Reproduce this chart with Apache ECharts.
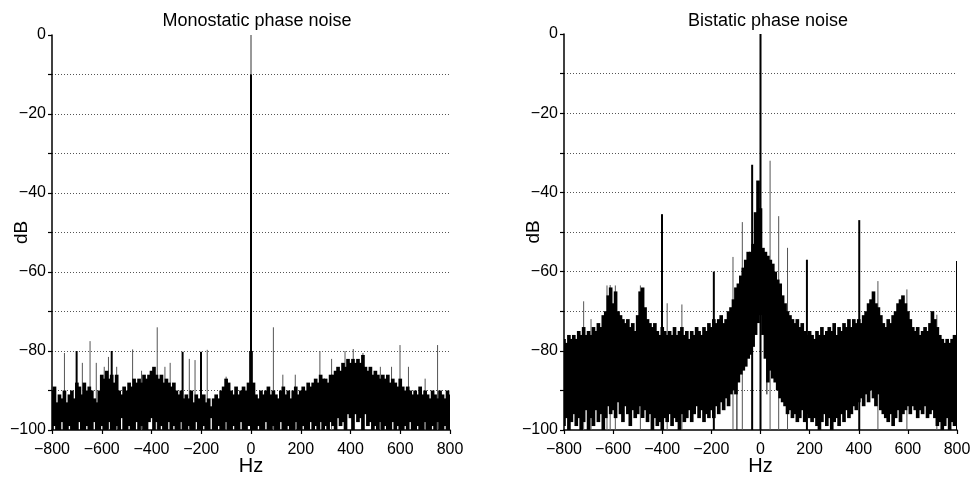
<!DOCTYPE html>
<html><head><meta charset="utf-8">
<script src="https://cdn.jsdelivr.net/npm/echarts@6/dist/echarts.min.js"></script>
<style>html,body{margin:0;padding:0;background:#fff}#c{width:975px;height:481px}</style>
</head><body><div id="c"></div>
<script>
// ---- spectrum sampling grid (Hz) ----
const binStart = -800, binStep = 10, binCount = 161;

// ---- Monostatic phase noise: upper / lower edge of the noise band per bin (dB) ----
const monoUpper = [
 -90,-89,-93,-91, -92,-90,-93,-91, -90,-92,-88, -89,-91,-88,-90, -89,-90,-92,-93,
 -90,-86,-87,-85, -87,-86,-88,-86, -90,-91,-89,-90, -88,-89,-87,-88, -87,-88,-86,-87,
 -86,-85,-84,-86, -87,-86,-88,-87, -88,-89,-88,-90, -91,-90,-92,-91, -92,-90,-93,-91,
 -92,-93,-91,-93, -92,-94,-92,-91, -92,-90,-89,-87, -88,-90,-91,-89, -91,-90,-89,-90,
 -88, -80, -88,
 -91,-92,-90,-91, -90,-89,-91,-90, -91,-92,-90,-89, -91,-90,-92,-90, -89,-91,-90,-89,
 -90,-88,-89,-88, -87,-88,-86,-87, -87,-88,-86,-86, -85,-84,-85,-83, -84,-82,-83,-82,
 -83,-82,-83,-81, -84,-85,-84,-86, -85,-86,-87,-86, -87,-86,-88,-87, -88,-89,-87,-89,
 -90,-89,-90,-91, -90,-91,-89,-91, -90,-91,-92,-90, -91,-92,-90,-91, -92,-90,-91
];
const monoLower = [
 -100,-99,-100,-100,-98,-100,-100,-99,-100,-100,
 -100,-98,-100,-100,-99,-100,-100,-98,-100,-100,
 -99,-100,-100,-98,-100,-100,-99,-100,-97,-100,
 -100,-99,-100,-100,-98,-100,-99,-100,-100,-98,
 -97,-100,-98,-100,-99,-100,-100,-98,-100,-99,
 -100,-100,-98,-100,-100,-99,-100,-100,-98,-100,
 -100,-99,-100,-100,-97,-100,-100,-99,-100,-100,
 -98,-100,-100,-99,-100,-100,-98,-100,-100,-99,
 -97,
 -100,-100,-99,-100,-100,-98,-100,-100,-99,-100,
 -100,-98,-100,-100,-99,-100,-100,-98,-100,-100,
 -99,-100,-100,-98,-100,-99,-100,-98,-100,-99,
 -100,-98,-99,-100,-97,-99,-98,-100,-96,-97,
 -100,-96,-98,-97,-100,-96,-99,-98,-100,-99,
 -100,-98,-100,-99,-100,-100,-98,-100,-99,-100,
 -100,-99,-100,-98,-100,-100,-99,-100,-100,-98,
 -100,-100,-99,-100,-98,-100,-100,-99,-100,-100
];
// isolated thin spectral lines (Hz, dB)
const monoLineHz = [-750,-678,-647,-622,-590,-573,-540,-476,-440,-377,-346,-325,-248,-225,-176,-100,90,128,178,277,324,378,411,450,520,565,599,633,700,750];
const monoLineDb = [-80.5,-83,-77.5,-83,-84,-81.5,-84,-79.6,-85,-74,-84,-83,-82,-82.3,-79.7,-86.5,-74,-86,-86,-80,-82,-80,-79.5,-80.5,-84,-84,-78.5,-84,-87,-78.5];
// strong dark lines (Hz, dB)
const monoDarkHz = [-701,-560,-275,-201,0];
const monoDarkDb = [-80,-80,-80.2,-80.2,-10];
// carrier tip
const monoCarrierHz = [0];
const monoCarrierDb = [0];

// ---- Bistatic phase noise ----
const biUpper = [
 -77,-78,-76,-77, -76,-77,-75,-76, -74,-76,-75, -76,-74,-75,-73, -74,-71,-70,-66,
 -64,-68,-65,-70, -71,-72,-73,-72, -74,-73,-75,-71, -65,-64,-69,-72, -73,-74,-73,-75,
 -76,-74,-75,-76, -75,-76,-74,-76, -75,-74,-76,-75, -77,-75,-76,-74, -75,-76,-74,-75,
 -73,-74,-72,-73, -72,-71,-73,-72, -70,-69,-67,-64, -63,-61,-59,-57, -55,-55,-53,
 -45, -37, -44,
 -54,-55,-56,-57, -58,-60,-62,-63, -66,-68,-70,-71, -72,-73,-72,-74, -73,-75,-76,-75,
 -76,-77,-75,-76, -74,-76,-75,-74, -75,-73,-76,-74, -75,-73,-74,-72, -74,-72,-73,-72,
 -73,-71,-70,-68, -67,-65,-68,-69, -71,-73,-74,-72, -73,-71,-70,-68, -67,-66,-68,-70,
 -72,-74,-75,-74, -76,-75,-74,-75, -73,-70,-72,-74, -76,-77,-78,-77, -78,-77,-76
];
const biLower = [
 -99,-97,-100,-98,-96,-99,-97,-100,-98,-95,
 -100,-97,-99,-95,-98,-96,-100,-97,-94,-96,
 -95,-97,-93,-96,-98,-94,-96,-99,-95,-97,
 -96,-94,-97,-95,-98,-96,-100,-97,-99,-98,
 -100,-97,-98,-96,-99,-97,-98,-100,-96,-98,
 -97,-95,-98,-96,-94,-97,-95,-98,-96,-97,
 -95,-97,-94,-96,-93,-95,-92,-94,-91,-90,
 -91,-88,-86,-85,-84,-82,-81,-79,-76,-73,
 -71,
 -76,-82,-88,-85,-87,-88,-90,-92,-93,-94,
 -96,-95,-97,-96,-98,-97,-95,-98,-96,-97,
 -98,-97,-99,-100,-98,-96,-99,-97,-100,-98,
 -97,-99,-96,-98,-95,-97,-96,-94,-95,-93,
 -92,-94,-91,-93,-90,-92,-94,-91,-95,-96,
 -97,-98,-96,-99,-97,-95,-98,-96,-95,-94,
 -96,-94,-95,-97,-95,-96,-94,-97,-96,-95,
 -97,-99,-98,-100,-99,-97,-100,-98,-99,-96
];
const biLineHz = [-720,-690,-625,-612,-591,-489,-380,-320,-112,-74,39,74,110,478,596,718];
const biLineDb = [-67.5,-72,-63.5,-63.4,-63.5,-63.5,-68,-68.3,-56.3,-47.5,-32,-46,-54,-62.4,-64.5,-70.9];
const biDarkHz = [-401,-190,-34,0,189,402,800];
const biDarkDb = [-45.5,-60,-33,0,-57,-47,-57.3];
// downward thin lines below the band (Hz, top dB, bottom dB)
const biDipHz = [-96,26];
const biDipTop = [-84,-75];
const biDipBottom = [-100,-91];

// ---- axis / grid ticks ----
const xTicks = {min:-800, max:800, step:200};
const yTicks = {min:-100, max:0, step:10, labelEvery:20};

const binsHz = Array.from({length: binCount}, (_, i) => binStart + i * binStep);
const FONT = '"Liberation Sans", Arial, Helvetica, sans-serif';
const fmt = v => (v < 0 ? '\u2212' + Math.abs(v) : String(v));

function bandItem(params, api) {
  const f = api.value(0), lo = api.value(1), hi = api.value(2);
  const a = api.coord([f - binStep / 2, hi]);
  const b = api.coord([f + binStep / 2, lo]);
  return {type: 'rect', shape: {x: a[0] - 0.6, y: a[1], width: b[0] - a[0] + 1.2, height: b[1] - a[1]},
          style: {fill: '#000', stroke: null, lineWidth: 0}};
}
function lineItem(color, width) {
  return function (params, api) {
    const f = api.value(0), top = api.value(1), bot = api.value(2);
    const a = api.coord([f, bot]), b = api.coord([f, top]);
    return {type: 'line', shape: {x1: a[0], y1: a[1], x2: b[0], y2: b[1]},
            style: {stroke: color, lineWidth: width}};
  };
}
function band(idx, upper, lower) {
  return {type: 'custom', xAxisIndex: idx, yAxisIndex: idx, clip: true, renderItem: bandItem,
          encode: {x: 0, y: [1, 2]}, z: 2, silent: true,
          data: binsHz.map((f, i) => [f, lower[i], upper[i]])};
}
function lines(idx, hz, db, color, width, bottoms, z) {
  return {type: 'custom', xAxisIndex: idx, yAxisIndex: idx, clip: true, renderItem: lineItem(color, width),
          encode: {x: 0, y: [1, 2]}, z: z || 3, silent: true,
          data: hz.map((f, i) => [f, db[i], bottoms ? bottoms[i] : yTicks.min])};
}

function xAxis(idx) {
  return {type: 'value', gridIndex: idx, min: xTicks.min, max: xTicks.max, interval: xTicks.step,
          name: 'Hz', nameLocation: 'middle', nameGap: 26, nameMoveOverlap: false,
          nameTextStyle: {fontSize: 20, color: '#000', fontFamily: FONT},
          axisLine: {onZero: false, lineStyle: {color: '#000', width: 1.5}},
          axisTick: {inside: false, length: 4, lineStyle: {color: '#000', width: 1.2}},
          axisLabel: {formatter: fmt, fontSize: 16, color: '#000', fontFamily: FONT, margin: 12},
          splitLine: {show: false}};
}
function yAxis(idx) {
  return {type: 'value', gridIndex: idx, min: yTicks.min, max: yTicks.max, interval: yTicks.step,
          name: 'dB', nameLocation: 'middle', nameGap: 21, nameRotate: 90, nameMoveOverlap: false,
          nameTextStyle: {fontSize: 19, color: '#000', fontFamily: FONT},
          axisLine: {onZero: false, lineStyle: {color: '#000', width: 1.5}},
          axisTick: {inside: false, length: 4, lineStyle: {color: '#000', width: 1.2}},
          axisLabel: {formatter: v => (v % yTicks.labelEvery === 0 ? fmt(v) : ''),
                      fontSize: 16, color: '#000', fontFamily: FONT, margin: 6},
          splitLine: {show: true, showMinLine: false, showMaxLine: false,
                      lineStyle: {color: '#555', width: 1, type: [1, 2]}}};
}

const chart = echarts.init(document.getElementById('c'), null, {renderer: 'canvas'});
chart.setOption({
  animation: false,
  backgroundColor: '#fff',
  title: [
    {text: 'Monostatic phase noise', left: 252, top: 7, textAlign: 'center',
     textStyle: {fontSize: 18, fontWeight: 'normal', color: '#000', fontFamily: FONT}},
    {text: 'Bistatic phase noise', left: 763, top: 7, textAlign: 'center',
     textStyle: {fontSize: 18, fontWeight: 'normal', color: '#000', fontFamily: FONT}}
  ],
  grid: [
    {left: 52, top: 35, width: 398, height: 397},
    {left: 564, top: 34, width: 393, height: 397}
  ],
  xAxis: [xAxis(0), xAxis(1)],
  yAxis: [yAxis(0), yAxis(1)],
  series: [
    lines(0, monoLineHz, monoLineDb, '#555', 1, null, 1),
    band(0, monoUpper, monoLower),
    lines(0, monoCarrierHz, monoCarrierDb, '#333', 1, null, 3),
    lines(0, monoDarkHz, monoDarkDb, '#000', 2, null, 4),
    lines(1, biLineHz, biLineDb, '#555', 1, null, 1),
    band(1, biUpper, biLower),
    lines(1, biDarkHz, biDarkDb, '#000', 2, null, 4),
    lines(1, biDipHz, biDipTop, '#000', 1, biDipBottom, 3)
  ]
});
</script></body></html>
